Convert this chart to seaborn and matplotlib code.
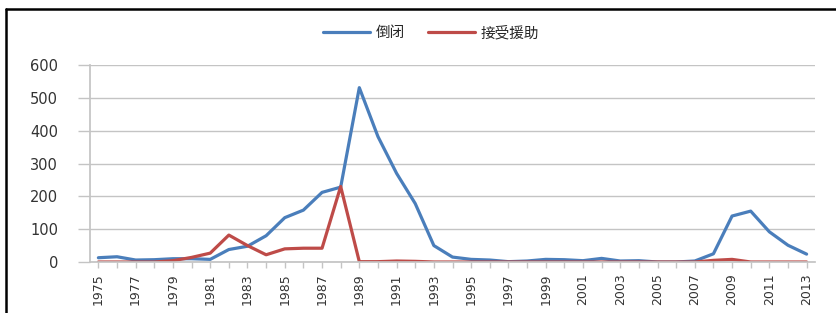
import pandas as pd
import numpy as np
import matplotlib
matplotlib.use('Agg')
import matplotlib.pyplot as plt
import seaborn as sns

# data (US bank failures vs assisted banks)
years = list(range(1975, 2014))
failed = [13, 16, 6, 7, 10, 10, 8, 38, 48, 80, 135, 158, 212, 228, 531, 382, 270, 178,
          50, 15, 8, 6, 1, 3, 8, 7, 4, 11, 3, 4, 0, 0, 3, 25, 140, 155, 92, 51, 24]
assisted = [0, 0, 0, 0, 4, 14, 27, 82, 50, 22, 40, 42, 42, 230, 1, 1, 3, 2,
            0, 0, 0, 0, 0, 0, 0, 0, 0, 0, 0, 0, 0, 0, 0, 5, 8, 0, 0, 0, 0]
labels = ['倒闭', '接受援助']
colors = ['#4a7ebb', '#be4b48']

df = pd.DataFrame({'year': years, labels[0]: failed, labels[1]: assisted})
df = df.melt(id_vars='year', var_name='type', value_name='count')

sns.set_theme(style='white')
plt.rcParams['font.family'] = ['DejaVu Sans', 'Noto Sans CJK SC']

fig = plt.figure(figsize=(8.37, 3.13), dpi=100)
ax = fig.add_axes([90/837, 51/313, (815-90)/837, (262-65)/313])

sns.lineplot(data=df, x='year', y='count', hue='type', palette=colors,
             linewidth=2.3, ax=ax, legend=False)

ax.set_xlim(1974.55, 2013.45)
ax.set_ylim(0, 600)
ax.set_yticks(range(0, 601, 100))
ax.set_xticks(range(1975, 2014, 2))
ax.set_xticks(range(1975, 2014), minor=True)
ax.set_xlabel('')
ax.set_ylabel('')

ax.yaxis.grid(True, color='#c4c4c4', linewidth=1)
ax.set_axisbelow(True)
for s in ['top', 'right']:
    ax.spines[s].set_visible(False)
ax.spines['left'].set_color('#c4c4c4')
ax.spines['bottom'].set_color('#c4c4c4')

ax.tick_params(axis='y', which='major', length=9, width=1, color='#c4c4c4',
               labelsize=10.5, labelcolor='#333333', pad=14, left=True)
ax.tick_params(axis='x', which='both', length=4, width=1, color='#c4c4c4',
               labelsize=9, labelcolor='#333333', bottom=True, pad=4)
for t in ax.get_yticklabels():
    t.set_fontfamily('DejaVu Sans')
for t in ax.get_xticklabels():
    t.set_fontfamily('DejaVu Sans')
    t.set_rotation(90)

handles = [plt.Line2D([], [], color=c, lw=2.3) for c in colors]
fig.legend(handles, labels, loc='center', bbox_to_anchor=(0.515, 0.895), ncol=2,
           frameon=False, handlelength=3.2, columnspacing=1.6, handletextpad=0.4,
           prop={'family': 'Noto Sans CJK SC', 'size': 10.5})

# black frame lines (left and top)
fig.add_artist(plt.Line2D([6/837, 6/837], [0, 1-9/313], transform=fig.transFigure,
                          color='black', lw=1.8))
fig.add_artist(plt.Line2D([6/837, 1], [1-9/313, 1-9/313], transform=fig.transFigure,
                          color='black', lw=1.8))

fig.savefig('out.png', dpi=100)
